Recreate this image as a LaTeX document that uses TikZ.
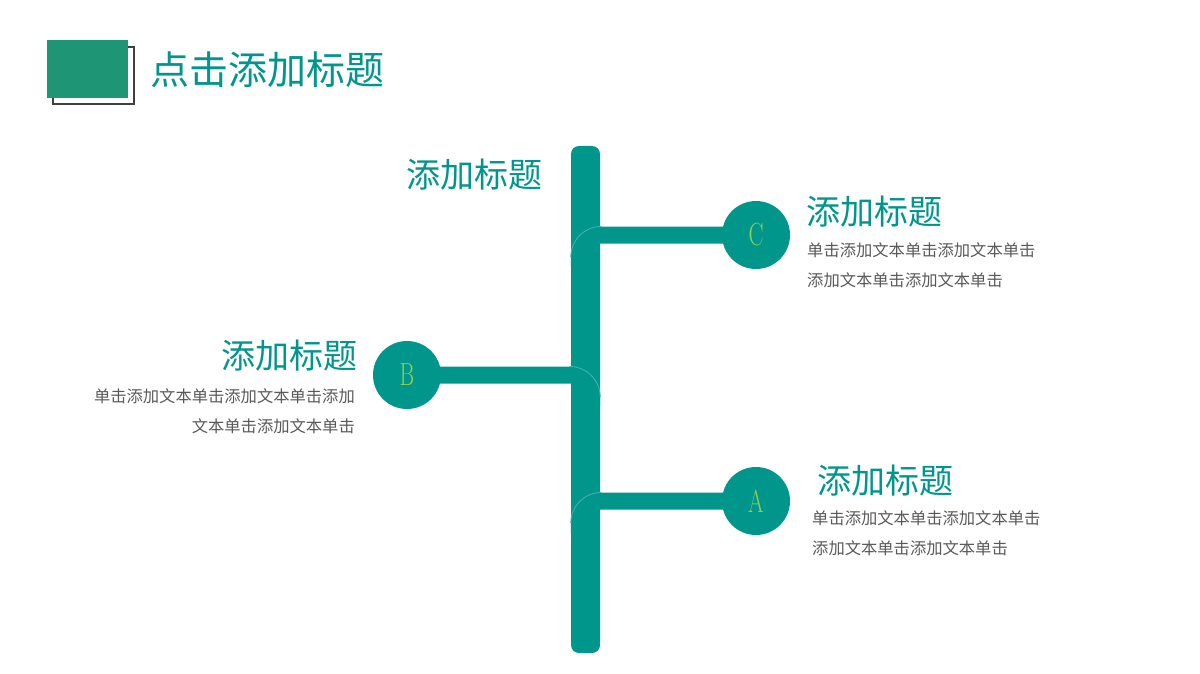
\documentclass[tikz,border=0pt]{standalone}
\usepackage{fontspec}
\usepackage{tikz}
\usetikzlibrary{calc}
\usetikzlibrary{backgrounds}
\newfontfamily\cjk{Noto Sans CJK SC}
\definecolor{tealbar}{RGB}{0,150,140}
\definecolor{titlegreen}{RGB}{30,150,118}
\definecolor{lettergreen}{RGB}{146,208,80}
\definecolor{bodygray}{RGB}{89,89,89}
\definecolor{edgeteal}{RGB}{70,180,170}
\definecolor{framegray}{RGB}{64,64,64}
\tikzstyle{bar} = [rectangle, fill = tealbar, inner sep = 0, minimum width = 29, minimum height = 507, rounded corners = 8]
\tikzstyle{dot} = [circle, fill = tealbar, inner sep = 0, minimum size = 68, text = lettergreen, font = \fontsize{32}{32}\selectfont]
\tikzstyle{branch} = [-, line width = 17, draw = tealbar, rounded corners = 22]
\tikzstyle{edge} = [-, line width = 0.8, draw = edgeteal]
\tikzstyle{head} = [inner sep = 0, text = tealbar, font = \cjk\fontsize{34}{34}\selectfont]
\tikzstyle{body} = [inner sep = 0, text = bodygray, font = \cjk\fontsize{16.3}{30}\selectfont]
\newcommand{\tallletter}[1]{\scalebox{0.7}[1]{#1}}

\begin{document}
\begin{tikzpicture}[x = 1pt, y = -1pt]
\useasboundingbox (0, 0) rectangle (1200, 674);
% title block
\draw [framegray, line width = 2] (53, 47) rectangle (134, 104);
\fill [titlegreen] (47, 40) rectangle (128, 98);
\node [inner sep = 0, anchor = west, text = tealbar, font = \cjk\fontsize{39}{39}\selectfont] (title) at (150, 70) {点击添加标题};

\node [bar] (T) at (585.5, 399.5) {};
\node [dot] (C) at (756, 235) {\tallletter{C}};
\node [dot] (B) at (407, 375) {\tallletter{B}};
\node [dot] (A) at (756, 501) {\tallletter{A}};

\begin{pgfonlayer}{background}
\draw [branch] ($(T.west |- C) + (8.5, 32)$) |- (C.center);
\draw [branch] ($(T.east |- B) + (-8.5, 32)$) |- (B.center);
\draw [branch] ($(T.west |- A) + (8.5, 32)$) |- (A.center);
\end{pgfonlayer}
\draw [edge] ($(T.west |- C) + (0, 22)$) arc [start angle = 180, end angle = 270, radius = 30.5];
\draw [edge] ($(T.east |- B) + (0, 22)$) arc [start angle = 0, end angle = -90, radius = 30.5];
\draw [edge] ($(T.west |- A) + (0, 22)$) arc [start angle = 180, end angle = 270, radius = 30.5];

\node [head, anchor = east] (Ttop) at (543, 175) {添加标题};
\node [head, anchor = west] (Chead) at (806, 212) {添加标题};
\node [body, anchor = west, align = left] (Cbody) at (807, 265) {单击添加文本单击添加文本单击\\添加文本单击添加文本单击};
\node [head, anchor = east] (Bhead) at (358, 356) {添加标题};
\node [body, anchor = east, align = right] (Bbody) at (355, 411.5) {单击添加文本单击添加文本单击添加\\文本单击添加文本单击};
\node [head, anchor = west] (Ahead) at (817, 481) {添加标题};
\node [body, anchor = west, align = left] (Abody) at (812, 533.5) {单击添加文本单击添加文本单击\\添加文本单击添加文本单击};
\end{tikzpicture}
\end{document}
